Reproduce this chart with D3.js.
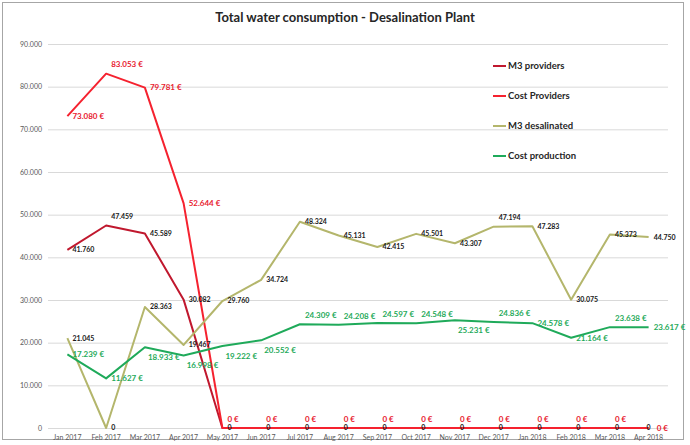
<!DOCTYPE html>
<html><head><meta charset="utf-8">
<script src="https://cdn.jsdelivr.net/npm/d3@7"></script>
<style>body{margin:0;background:#fff;font-family:Lato,"Open Sans",sans-serif}</style>
</head><body><svg id="c" width="690" height="445"></svg>
<script>
const months = ["Jan 2017","Feb 2017","Mar 2017","Apr 2017","May 2017","Jun 2017","Jul 2017","Aug 2017","Sep 2017","Oct 2017","Nov 2017","Dec 2017","Jan 2018","Feb 2018","Mar 2018","Apr 2018"];
const m3Providers = [41760,47459,45589,30082,0,0,0,0,0,0,0,0,0,0,0,0];
const costProviders = [73080,83053,79781,52644,0,0,0,0,0,0,0,0,0,0,0,0];
const m3Desalinated = [21045,0,28363,19467,29760,34724,48324,45131,42415,45501,43307,47194,47283,30075,45373,44750];
const costProduction = [17239,11627,18933,16998,19222,20552,24309,24208,24597,24548,25231,24836,24578,21164,23638,23617];
const yTicks = [0,10000,20000,30000,40000,50000,60000,70000,80000,90000];
// label placement: r = right, a = above-right, b = below-right, c = centred on point
const placeM3P = ["r","a","r","r","r","r","r","r","r","r","r","r","r","r","r","c"];
const placeCP = ["r","a","r","r","a","a","a","a","a","a","a","a","a","a","a","r2"];
const placeM3D = ["r","r","r","r","r","r","r","r","r","r","r","a","r","r","r","r"];
const placeProd = ["r","r","b","b","b","b","a","a","a","a","b","a","r","r","a","r"];

const svg = d3.select("#c");
svg.append("rect").attr("x",2.5).attr("y",2.5).attr("width",681).attr("height",437).attr("fill","#fff").attr("stroke","#a6a6a6").attr("stroke-width",1);

const L=48,R=668,T=44,B=428;
const x = d3.scaleBand().domain(months).range([L,R]);
const cx = d=>x(d)+x.bandwidth()/2;
const y = d3.scaleLinear().domain([0,90000]).range([B,T]);
const fmt = v => d3.format(",")(v).replace(/,/g,".");

svg.append("text").attr("x",345).attr("y",22).attr("text-anchor","middle")
  .attr("font-size",13).attr("font-weight","bold").attr("fill","#262626")
  .text("Total water consumption - Desalination Plant");

svg.append("g").selectAll("line").data(yTicks).join("line")
  .attr("x1",L).attr("x2",R).attr("y1",d=>y(d)+0.5).attr("y2",d=>y(d)+0.5)
  .attr("stroke","#d9d9d9").attr("stroke-width",1);

const ya = svg.append("g").attr("transform",`translate(${L},0)`)
  .call(d3.axisLeft(y).tickValues(yTicks).tickFormat(fmt).tickSize(0).tickPadding(6));
ya.select(".domain").remove();
ya.selectAll("text").attr("font-size",7).attr("fill","#595959").attr("font-family","Lato,sans-serif");

const xa = svg.append("g").attr("transform",`translate(0,${B})`)
  .call(d3.axisBottom(x).tickSize(0).tickPadding(7));
xa.select(".domain").attr("stroke","#d9d9d9");
xa.selectAll("text").attr("font-size",7).attr("fill","#595959").attr("font-family","Lato,sans-serif");

const series = [
  {name:"M3 providers", vals:m3Providers, color:"#c0182e", lab:"#1a1a1a", eur:false, place:placeM3P},
  {name:"Cost Providers", vals:costProviders, color:"#f5222f", lab:"#e8212f", eur:true, place:placeCP},
  {name:"M3 desalinated", vals:m3Desalinated, color:"#b4b66c", lab:"#1a1a1a", eur:false, place:placeM3D},
  {name:"Cost production", vals:costProduction, color:"#1faa5a", lab:"#1faa5a", eur:true, place:placeProd}
];
const dxOf = {r:5,a:5,b:3,c:0,r2:8};
const dyOf = {r:0,a:-9,b:10,c:0,r2:0};
const line = d3.line().x((d,i)=>cx(months[i])).y(d=>y(d));
series.forEach(s=>{
  svg.append("path").datum(s.vals).attr("d",line).attr("fill","none")
    .attr("stroke",s.color).attr("stroke-width",2).attr("stroke-linejoin","round");
});
series.forEach(s=>{
  svg.append("g").selectAll("text").data(s.vals).join("text")
    .attr("x",(d,i)=>cx(months[i]) + dxOf[s.place[i]])
    .attr("y",(d,i)=>y(d) + dyOf[s.place[i]])
    .attr("text-anchor",(d,i)=>s.place[i]==="c"?"middle":"start")
    .attr("dy","0.35em")
    .attr("font-size",s.eur?8:7).attr("font-weight","bold").attr("fill",s.lab)
    .text(d=>fmt(d)+(s.eur?" €":""));
});

const lg = svg.append("g");
series.forEach((s,i)=>{
  const ly = 66 + i*30;
  lg.append("line").attr("x1",493).attr("x2",506).attr("y1",ly).attr("y2",ly).attr("stroke",s.color).attr("stroke-width",2);
  lg.append("text").attr("x",508).attr("y",ly).attr("dy","0.35em").attr("font-size",9.5).attr("font-weight","bold").attr("fill","#262626").text(s.name);
});
</script></body></html>
